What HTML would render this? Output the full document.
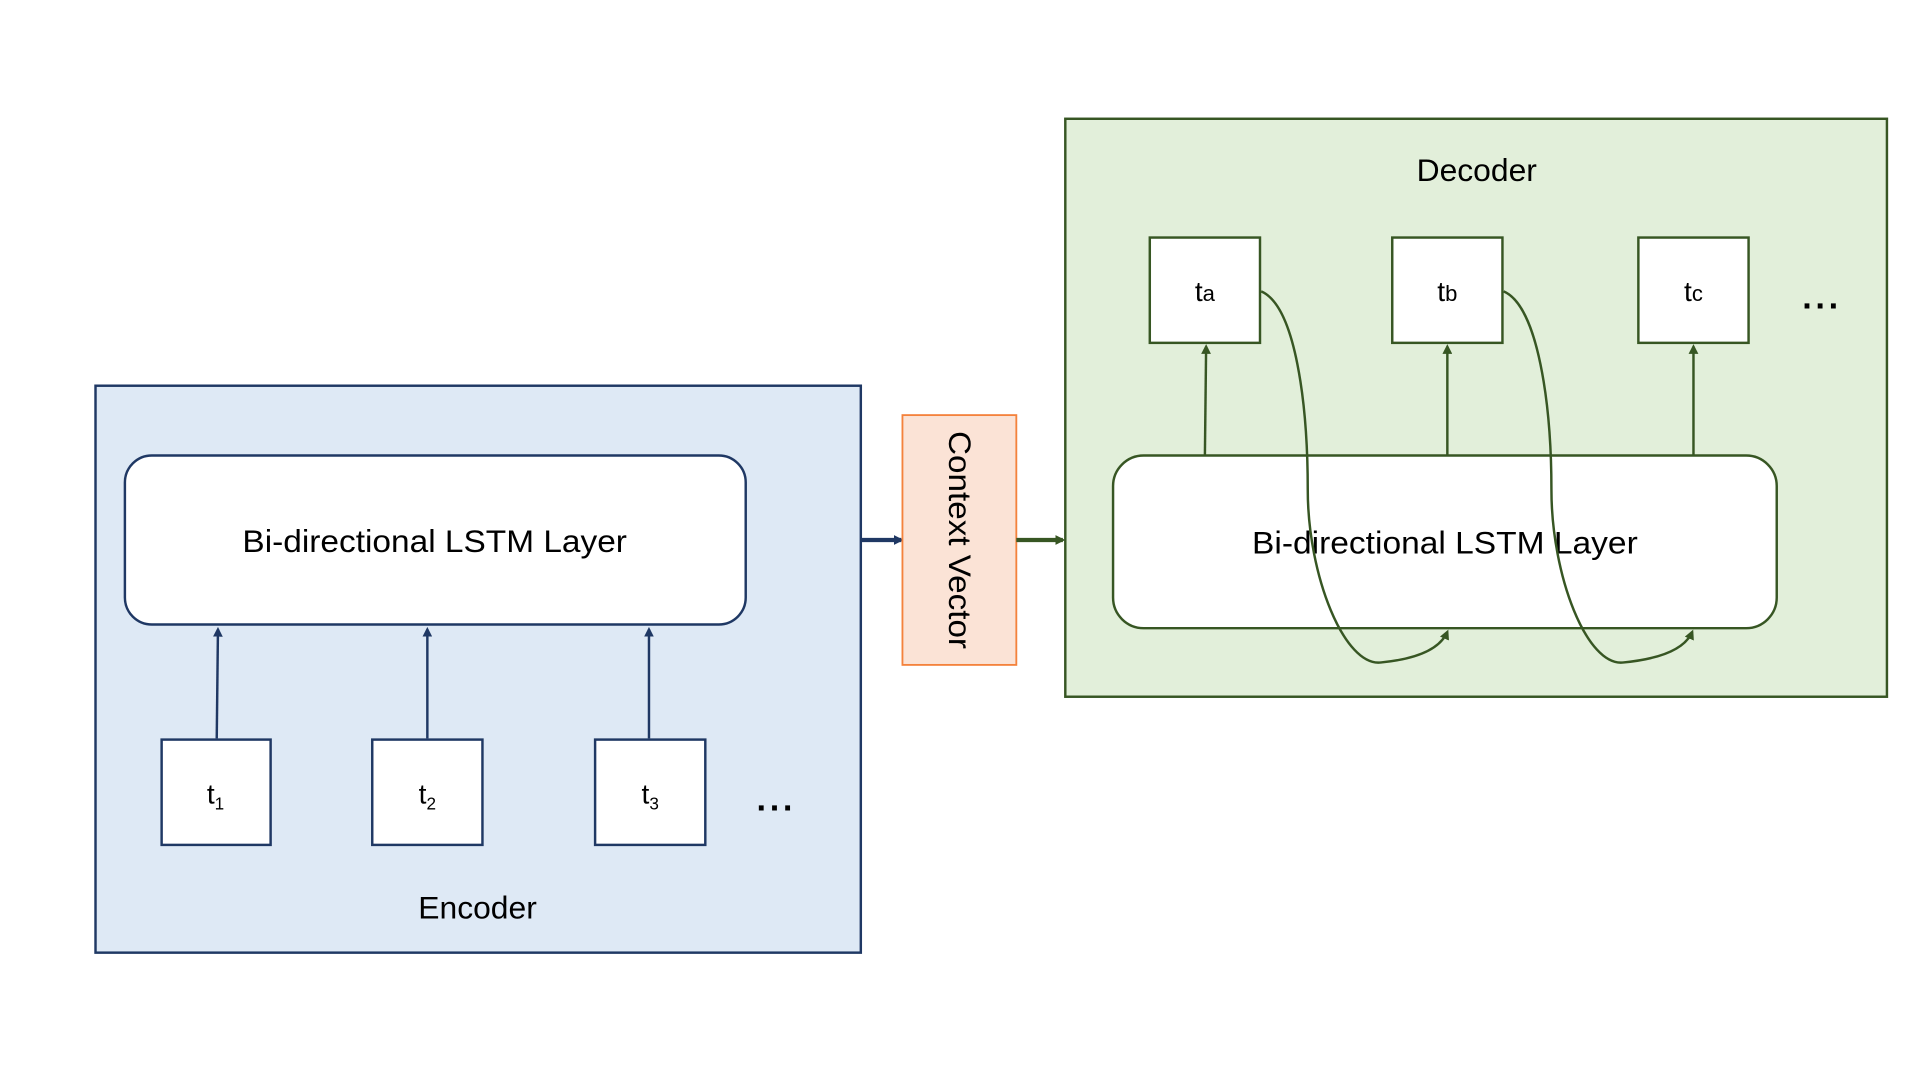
<!DOCTYPE html>
<html><head><style>html,body{margin:0;padding:0;background:#fff}svg{display:block}</style></head>
<body>
<svg width="1920" height="1080" viewBox="0 0 1568 882" xmlns="http://www.w3.org/2000/svg" font-family="Liberation Sans, sans-serif">
<defs>
<marker id="an" markerWidth="8" markerHeight="8" refX="6" refY="4" orient="auto" markerUnits="userSpaceOnUse"><path d="M0,0 L8,4 L0,8 Z" fill="#1f3864"/></marker>
<marker id="ag" markerWidth="8" markerHeight="8" refX="6" refY="4" orient="auto" markerUnits="userSpaceOnUse"><path d="M0,0 L8,4 L0,8 Z" fill="#375623"/></marker>
</defs>
<rect width="1568" height="882" fill="#fff"/>
<!-- Encoder -->
<rect x="78" y="315" width="625" height="463" fill="#dee9f5" stroke="#1f3864" stroke-width="2"/>
<rect x="102" y="372" width="507" height="138" rx="22" fill="#fff" stroke="#1f3864" stroke-width="2"/>
<text x="355" y="451" font-size="26" text-anchor="middle" fill="#000" textLength="314" lengthAdjust="spacingAndGlyphs">Bi-directional LSTM Layer</text>
<g fill="#fff" stroke="#1f3864" stroke-width="2">
<rect x="132" y="604" width="89" height="86"/><rect x="304" y="604" width="90" height="86"/><rect x="486" y="604" width="90" height="86"/>
</g>
<g font-size="23" fill="#000" text-anchor="middle">
<text x="176" y="656">t<tspan font-size="14" dy="5">1</tspan></text>
<text x="349" y="656">t<tspan font-size="14" dy="5">2</tspan></text>
<text x="531" y="656">t<tspan font-size="14" dy="5">3</tspan></text>
</g>
<g stroke="#1f3864" stroke-width="2" marker-end="url(#an)">
<line x1="177" y1="603" x2="178" y2="514"/><line x1="349" y1="603" x2="349" y2="514"/><line x1="530" y1="603" x2="530" y2="514"/>
</g>
<text x="634" y="662" font-size="28" text-anchor="middle" font-weight="bold" letter-spacing="3">...</text>
<text x="390" y="750" font-size="26" text-anchor="middle">Encoder</text>
<line x1="703" y1="441" x2="736" y2="441" stroke="#1f3864" stroke-width="3.5" marker-end="url(#an)"/>
<!-- Context -->
<rect x="737" y="339" width="93" height="204" fill="#fbe3d6" stroke="#f4823c" stroke-width="1.5"/>
<text transform="translate(775,441) rotate(90)" font-size="26" text-anchor="middle" textLength="178" lengthAdjust="spacingAndGlyphs">Context Vector</text>
<line x1="830" y1="441" x2="868" y2="441" stroke="#375623" stroke-width="3.5" marker-end="url(#ag)"/>
<!-- Decoder -->
<rect x="870" y="97" width="671" height="472" fill="#e2efda" stroke="#375623" stroke-width="2"/>
<text x="1206" y="148" font-size="26" text-anchor="middle">Decoder</text>
<rect x="909" y="372" width="542" height="141" rx="25" fill="#fff" stroke="#375623" stroke-width="2"/>
<text x="1180" y="452" font-size="26" text-anchor="middle" textLength="315" lengthAdjust="spacingAndGlyphs">Bi-directional LSTM Layer</text>
<g fill="#fff" stroke="#375623" stroke-width="2">
<rect x="939" y="194" width="90" height="86"/><rect x="1137" y="194" width="90" height="86"/><rect x="1338" y="194" width="90" height="86"/>
</g>
<g font-size="23" fill="#000" text-anchor="middle">
<text x="984" y="246">t<tspan font-size="18">a</tspan></text>
<text x="1182" y="246">t<tspan font-size="18">b</tspan></text>
<text x="1383" y="246">t<tspan font-size="18">c</tspan></text>
</g>
<g stroke="#375623" stroke-width="2" marker-end="url(#ag)">
<line x1="984" y1="372" x2="985" y2="283"/><line x1="1182" y1="372" x2="1182" y2="283"/><line x1="1383" y1="372" x2="1383" y2="283"/>
</g>
<g fill="none" stroke="#375623" stroke-width="2" marker-end="url(#ag)">
<path d="M1030,238 C1058,250 1068,330 1068,400 C1068,470 1098,545 1128,541 C1158,538 1176,530 1182,516"/>
<path d="M1228,238 C1256,250 1267,330 1267,400 C1267,470 1296,545 1326,541 C1356,538 1376,530 1382,516"/>
</g>
<text x="1488" y="252" font-size="28" text-anchor="middle" font-weight="bold" letter-spacing="3">...</text>
</svg>
</body></html>
